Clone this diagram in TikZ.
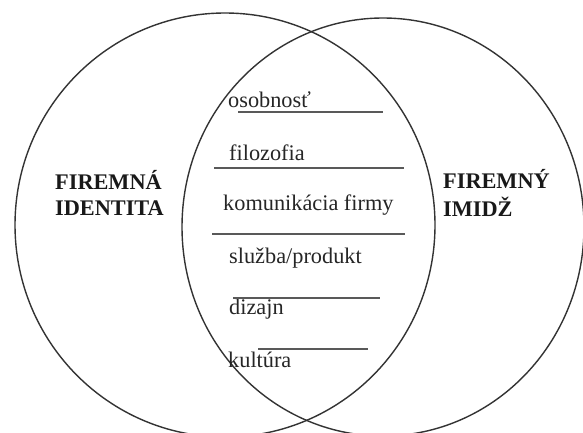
\documentclass[tikz,border=0pt]{standalone}
\usepackage{fontspec}
\setmainfont{Liberation Serif}
\begin{document}
\begin{tikzpicture}[x=1pt,y=-1pt,
  ring/.style={draw=black!80, line width=1.4pt},
  rule/.style={draw=black!65, line width=1.3pt},
  item/.style={anchor=base west, inner sep=0pt, font=\fontsize{22.3}{25}\selectfont, text=black!85},
  title/.style={anchor=base west, inner sep=0pt, font=\fontsize{22.3}{26}\selectfont\bfseries, text=black!90, align=left}]
\useasboundingbox (0,0) rectangle (583,433);
\fill[white] (0,0) rectangle (583,433);
% circles
\draw[ring] (225,225) ellipse [x radius=210pt, y radius=212pt];
\draw[ring] (383,227) ellipse [x radius=201pt, y radius=209pt];
% labels
\node[title] (fi1) at (55,189) {FIREMNÁ};
\node[title] (fi2) at (55,215) {IDENTITA};
\node[title] (im1) at (443,188) {FIREMNÝ};
\node[title] (im2) at (443,216) {IMIDŽ};
% items
\node[item] (osob) at (228,107) {osobnosť};
\node[item] (filo) at (229,160) {filozofia};
\node[item] (komu) at (223,210) {komunikácia firmy};
\node[item] (sluz) at (229,263) {služba/produkt};
\node[item] (diza) at (229,314) {dizajn};
\node[item] (kult) at (228,367) {kultúra};
% rules
\coordinate (r1a) at (238,112); \coordinate (r1b) at (383,112);
\coordinate (r2a) at (214,168); \coordinate (r2b) at (404,168);
\coordinate (r3a) at (212,234); \coordinate (r3b) at (405,234);
\coordinate (r4a) at (233,298); \coordinate (r4b) at (380,298);
\coordinate (r5a) at (258,349); \coordinate (r5b) at (368,349);
\draw[rule] (r1a) -- (r1b);
\draw[rule] (r2a) -- (r2b);
\draw[rule] (r3a) -- (r3b);
\draw[rule] (r4a) -- (r4b);
\draw[rule] (r5a) -- (r5b);
\end{tikzpicture}
\end{document}
